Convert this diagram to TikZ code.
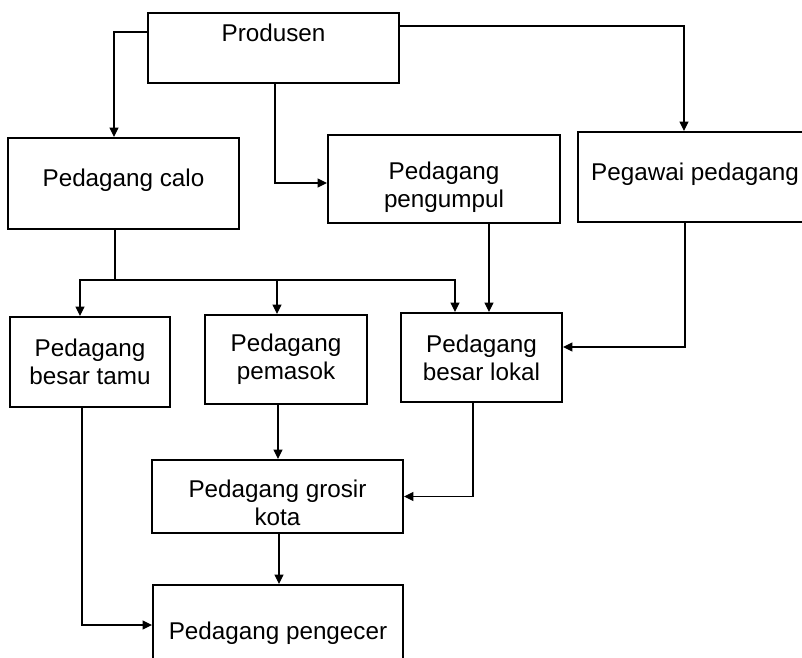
\documentclass[tikz,border=0pt]{standalone}
\usepackage{fontspec}
\setmainfont{Liberation Sans}
\usetikzlibrary{arrows.meta}

\begin{document}
\begin{tikzpicture}[x=0.02cm,y=-0.02cm]
\tikzset{box/.style={draw=black,line width=1.1pt,rectangle,align=center,inner sep=0pt,
  font=\fontsize{13.8pt}{16pt}\selectfont},
  flow/.style={draw=black,line width=0.7pt,-{Triangle[length=0.19cm,width=0.18cm]}}}
\useasboundingbox (0,0) rectangle (802,657);
\clip (0,0) rectangle (802,657);
\node [box,minimum width=251*0.02cm,minimum height=70*0.02cm,text depth=0.62cm] (prod) at (273.5,48) {Produsen};
\node [box,minimum width=231*0.02cm,minimum height=91*0.02cm,text depth=0.25cm] (calo) at (123.5,183.5) {Pedagang calo};
\node [box,minimum width=232*0.02cm,minimum height=88*0.02cm,text height=1.23cm] (pengumpul) at (444,179) {Pedagang\\pengumpul};
\node [box,minimum width=234*0.02cm,minimum height=90*0.02cm,text depth=0.2cm] (pegawai) at (695,177) {Pegawai pedagang};
\node [box,minimum width=160*0.02cm,minimum height=90*0.02cm] (tamu) at (90,362) {Pedagang\\besar tamu};
\node [box,minimum width=162*0.02cm,minimum height=89*0.02cm] (pemasok) at (286,359.5) {Pedagang\\pemasok};
\node [box,minimum width=161*0.02cm,minimum height=89*0.02cm] (lokal) at (481.5,357.5) {Pedagang\\besar lokal};
\node [box,minimum width=251*0.02cm,minimum height=73*0.02cm,text height=1.15cm] (grosir) at (277.5,496.5) {Pedagang grosir\\kota};
\node [box,minimum width=250*0.02cm,minimum height=96*0.02cm] (pengecer) at (278,633) {Pedagang pengecer};
\coordinate (bus) at (115,280);
\draw [flow] (prod.west |- 0,32) -| (114,0 |- calo.north);
\draw [flow] (275,0 |- prod.south) |- (pengumpul.west |- 0,183);
\draw [flow] (prod.east |- 0,26) -| (684,0 |- pegawai.north);
\draw [black,line width=0.7pt] (115,0 |- calo.south) -- (bus);
\foreach \x/\n in {80/tamu,277/pemasok,455/lokal}
  \draw [flow] (bus) -| (\x,0 |- \n.north);
\draw [flow] (489,0 |- pengumpul.south) -- (489,0 |- lokal.north);
\draw [flow] (685,0 |- pegawai.south) |- (lokal.east |- 0,347);
\draw [flow] (278,0 |- pemasok.south) -- (278,0 |- grosir.north);
\draw [flow] (473,0 |- lokal.south) |- (grosir.east);
\draw [flow] (279,0 |- grosir.south) -- (279,0 |- pengecer.north);
\draw [flow] (82,0 |- tamu.south) |- (pengecer.west |- 0,625);
\end{tikzpicture}
\end{document}
